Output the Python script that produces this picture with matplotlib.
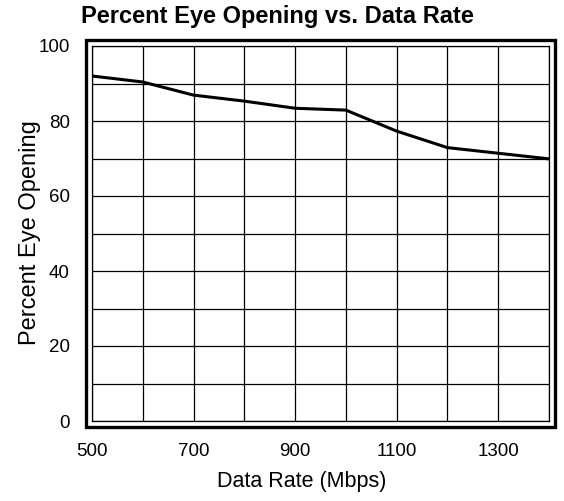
import matplotlib
matplotlib.use("Agg")
import matplotlib.pyplot as plt
from matplotlib.patches import Rectangle

plt.rcParams["font.family"] = ["Liberation Sans", "DejaVu Sans"]

# data
rate = [500, 600, 700, 800, 900, 1000, 1100, 1200, 1300, 1400]
eye = [92.0, 90.4, 86.9, 85.3, 83.4, 82.9, 77.3, 72.9, 71.4, 69.9]
xticks = [500, 700, 900, 1100, 1300]
yticks = [0, 20, 40, 60, 80, 100]

fig = plt.figure(figsize=(5.64, 5.01), dpi=100)
ax = fig.add_axes([92 / 564, 80 / 501, 457 / 564, 375 / 501])

ax.plot(rate, eye, color="black", lw=2.2, solid_capstyle="butt", zorder=3)

ax.set_xlim(500, 1400)
ax.set_ylim(0, 100)
ax.set_xticks(range(500, 1401, 100))
ax.set_yticks(range(0, 101, 10))
ax.grid(True, color="black", lw=0.9)
ax.set_xticklabels([str(v) if v in xticks else "" for v in range(500, 1401, 100)])
ax.set_yticklabels([str(v) if v in yticks else "" for v in range(0, 101, 10)])
ax.tick_params(length=0, pad=16, labelsize=13.5)
for s in ax.spines.values():
    s.set_linewidth(0.9)

# outer heavy frame
dx = 6 / 457
dy = 5.5 / 375
ax.add_patch(Rectangle((-dx, -dy), 1 + 2 * dx, 1 + 2 * dy, transform=ax.transAxes,
                       fill=False, lw=2.4, ec="black", clip_on=False))

fig.text(277 / 564, 1 - 17 / 501, "Percent Eye Opening vs. Data Rate", ha="center", va="center",
         fontsize=17, fontweight="bold")
fig.text(302 / 564, 1 - 482 / 501, "Data Rate (Mbps)", ha="center", va="center", fontsize=15.5)
fig.text(30 / 564, 1 - 233 / 501, "Percent Eye Opening", ha="center", va="center", fontsize=17,
         rotation=90)

fig.savefig("out.png", dpi=100)
